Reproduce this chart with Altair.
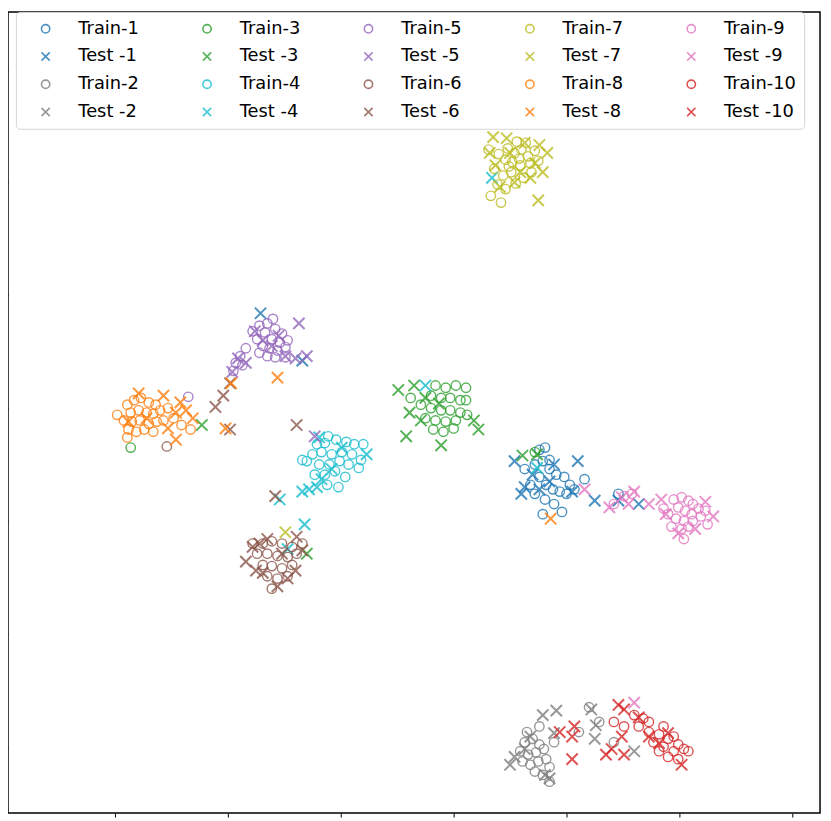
import altair as alt
import pandas as pd

# t-SNE embedding readings (train = circles, test = crosses), per class
TRAIN_1 = [(7.6,-3.7),(8.1,-3.5),(7.2,-5.0),(7.9,-4.7),(8.5,-5.4),(9.1,-5.9),(9.8,-6.1),(10.3,-6.8),(7.6,-6.1),(8.2,-6.8),(8.8,-7.2),(9.4,-7.4),(6.8,-6.8),(7.2,-7.6),(8.1,-8.1),(10.0,-7.6),(10.7,-7.2),(8.9,-8.5),(9.6,-9.2),(6.3,-5.4),(7.9,-9.4),(11.6,-6.3),(14.6,-7.6),(8.5,-4.6)]
TEST_1 = [(5.4,-4.7),(6.3,-7.0),(7.6,-7.2),(11.0,-4.7),(12.5,-8.2),(14.6,-8.2),(16.4,-8.5),(8.9,-5.0),(7.0,-5.9),(10.5,-7.4),(8.5,-6.5),(6.0,-7.6),(-17.1,8.4),(-13.4,4.2)]

TRAIN_2 = [(6.3,-29.6),(7.0,-29.3),(7.6,-29.8),(5.9,-30.4),(6.6,-30.7),(7.3,-30.5),(8.0,-30.2),(6.1,-31.3),(6.8,-31.6),(7.5,-31.3),(8.2,-31.1),(7.2,-32.2),(7.9,-32.5),(8.5,-31.8),(6.5,-28.7),(7.6,-28.2),(8.9,-29.6),(12.0,-26.5),(12.9,-27.8),(11.1,-28.7),(14.2,-29.6),(8.5,-33.1)]
TEST_2 = [(5.0,-31.6),(6.3,-30.2),(8.1,-32.5),(8.5,-32.8),(7.9,-27.2),(9.1,-26.8),(8.9,-28.8),(12.2,-26.7),(12.5,-29.3),(12.6,-28.1),(16.0,-30.4),(6.8,-29.1),(5.4,-30.9)]

TRAIN_3 = [(-1.6,2.0),(-0.7,1.8),(0.2,2.0),(1.1,1.8),(-2.0,1.1),(-1.1,0.9),(-0.3,0.9),(0.6,0.7),(-2.9,0.3),(-2.0,0.0),(-1.1,-0.2),(-0.3,-0.2),(0.6,-0.4),(-2.5,-0.9),(-1.6,-1.1),(-0.7,-1.2),(0.2,-1.1),(1.2,-0.6),(-1.8,-1.9),(-0.9,-2.1),(0.0,-1.8),(-3.8,0.9),(1.1,0.7),(-28.6,-3.5),(7.2,-3.9)]
TEST_3 = [(-4.9,1.6),(-3.5,2.0),(-2.5,0.9),(-3.9,-0.4),(-4.2,-2.5),(-1.1,-3.3),(1.8,-1.1),(2.2,-1.9),(-2.9,-1.1),(-1.3,0.4),(6.1,-4.2),(7.4,-4.1),(-22.3,-1.5),(-13.0,-12.9)]

TRAIN_4 = [(-12.1,-3.2),(-11.4,-3.1),(-10.4,-2.8),(-9.5,-3.0),(-8.8,-3.2),(-12.5,-4.1),(-11.7,-3.9),(-10.8,-4.1),(-9.9,-3.9),(-9.0,-4.1),(-8.2,-4.6),(-13.0,-4.7),(-11.9,-5.0),(-11.0,-5.0),(-10.1,-4.7),(-9.3,-5.0),(-8.4,-5.3),(-12.3,-5.9),(-11.4,-5.9),(-10.5,-5.6),(-9.6,-6.1),(-11.2,-6.8),(-10.2,-7.0),(-13.4,-4.6),(-8.0,-3.2),(-11.1,-2.5)]
TEST_4 = [(-7.7,-4.1),(-11.9,-2.6),(-10.8,-5.4),(-12.8,-7.2),(-12.1,-7.0),(-13.4,-7.4),(-11.7,-6.3),(-9.9,-3.5),(-15.4,-8.1),(-13.2,-10.3),(-2.5,2.0),(3.4,20.4),(7.4,-5.3),(-14.7,-12.5)]

TRAIN_5 = [(-17.2,7.3),(-16.5,7.5),(-15.8,7.0),(-15.2,6.6),(-16.7,6.7),(-16.1,6.1),(-15.4,5.8),(-14.7,6.0),(-17.4,6.1),(-16.9,5.5),(-16.3,5.3),(-15.6,5.1),(-14.9,5.4),(-16.5,4.6),(-15.8,4.5),(-17.2,4.9),(-17.8,6.8),(-14.9,4.5),(-18.4,5.3),(-18.9,4.6),(-19.3,4.0),(-18.7,3.8),(-19.5,3.3),(-16.0,7.9),(-23.5,1.0)]
TEST_5 = [(-13.7,7.5),(-13.0,4.6),(-14.0,4.4),(-14.9,4.6),(-17.6,6.8),(-16.9,6.0),(-19.1,4.4),(-19.6,3.2),(-18.4,4.0),(-12.3,-2.5),(-16.1,5.5),(-15.5,6.4)]

TRAIN_6 = [(-16.9,-12.0),(-16.1,-11.8),(-15.2,-12.0),(-14.3,-12.3),(-17.4,-12.9),(-16.5,-12.9),(-15.6,-13.1),(-14.7,-13.2),(-13.9,-12.9),(-16.9,-13.9),(-16.1,-14.0),(-15.2,-14.2),(-14.3,-13.9),(-16.5,-14.9),(-15.6,-15.1),(-14.7,-14.9),(-16.1,-16.0),(-17.8,-12.0),(-13.4,-12.0),(-25.4,-3.4)]
TEST_6 = [(-17.8,-12.3),(-18.4,-13.6),(-17.2,-12.0),(-16.5,-11.6),(-13.9,-11.4),(-13.4,-12.6),(-15.2,-12.9),(-16.9,-14.6),(-14.7,-15.1),(-15.6,-15.8),(-14.0,-14.4),(-17.5,-14.4),(-15.8,-7.8),(-13.9,-1.5),(-19.8,-1.9),(-21.1,0.1),(-20.4,1.1),(-19.8,2.2)]

TRAIN_7 = [(4.8,23.0),(5.4,22.6),(6.0,22.9),(6.6,22.3),(5.2,21.8),(4.6,22.0),(5.9,21.5),(6.8,21.7),(4.0,22.5),(3.6,21.2),(4.4,20.6),(5.1,20.9),(6.2,20.4),(5.6,23.6),(6.4,23.5),(7.2,22.8),(3.9,19.8),(4.6,19.4),(5.5,19.9),(3.3,18.8),(4.2,18.2),(5.8,22.1),(6.9,20.9),(4.9,21.4),(3.1,22.9),(7.5,21.9)]
TEST_7 = [(3.2,22.6),(3.7,21.5),(4.7,23.9),(6.3,23.5),(7.6,23.3),(8.3,22.6),(7.2,21.7),(6.8,20.4),(5.4,20.0),(4.1,19.6),(7.5,18.4),(5.9,20.9),(7.9,20.9),(5.0,22.6),(3.5,24.0),(-14.9,-11.0)]

TRAIN_8 = [(-28.9,0.3),(-28.3,0.7),(-27.7,0.9),(-27.0,0.5),(-26.4,0.3),(-28.6,-0.4),(-27.9,-0.2),(-27.2,-0.4),(-26.6,-0.5),(-26.0,-0.2),(-25.3,0.0),(-29.2,-1.1),(-28.5,-1.2),(-27.8,-1.1),(-27.0,-1.4),(-26.3,-1.2),(-25.7,-1.1),(-28.8,-1.9),(-28.1,-2.1),(-27.4,-1.9),(-26.6,-2.1),(-24.8,-0.9),(-24.1,-1.5),(-28.9,-2.6),(-23.3,-1.9),(-29.8,-0.6)]
TEST_8 = [(-27.9,1.3),(-25.7,1.1),(-24.2,0.5),(-24.6,-0.4),(-23.1,-0.9),(-23.7,-0.2),(-25.3,-1.8),(-24.6,-2.8),(-28.8,-1.2),(-27.2,-0.9),(-15.6,2.7),(-19.7,2.2),(-20.2,-1.8),(8.6,-9.8)]

TRAIN_9 = [(19.5,-8.1),(20.2,-7.9),(20.8,-8.2),(21.2,-8.5),(21.7,-8.9),(19.9,-8.8),(20.5,-9.1),(21.1,-9.4),(19.0,-9.4),(19.7,-9.8),(20.4,-10.0),(21.2,-10.0),(21.9,-9.6),(22.3,-9.1),(19.3,-10.5),(20.2,-10.7),(20.8,-10.5),(18.6,-8.9),(22.5,-10.3),(20.4,-11.6),(15.1,-7.8),(15.8,-7.6),(14.2,-8.5)]
TEST_9 = [(11.6,-7.2),(13.8,-8.8),(14.9,-7.9),(15.5,-8.5),(17.3,-8.5),(18.4,-8.1),(18.8,-9.4),(19.9,-11.1),(21.4,-10.7),(23.0,-9.6),(22.3,-8.3),(16.0,-7.4),(16.0,-26.1)]

TRAIN_10 = [(16.0,-27.2),(16.8,-27.5),(15.1,-28.2),(16.4,-28.2),(17.3,-28.7),(18.2,-28.9),(19.0,-29.3),(19.9,-29.8),(17.7,-29.6),(18.6,-30.0),(19.5,-30.4),(20.4,-30.2),(18.2,-30.4),(19.0,-30.9),(19.9,-31.1),(20.8,-30.4),(17.3,-27.8),(18.6,-28.2),(19.5,-29.1),(14.2,-27.8)]
TEST_10 = [(14.6,-26.3),(15.1,-26.7),(16.4,-27.4),(17.3,-29.1),(18.2,-29.7),(19.0,-28.8),(20.2,-31.6),(14.9,-29.1),(14.0,-30.2),(15.1,-30.7),(10.5,-31.1),(10.5,-29.1),(9.4,-28.7),(10.7,-28.2),(13.5,-30.7)]

TRAIN = [TRAIN_1, TRAIN_2, TRAIN_3, TRAIN_4, TRAIN_5, TRAIN_6, TRAIN_7, TRAIN_8, TRAIN_9, TRAIN_10]
TEST = [TEST_1, TEST_2, TEST_3, TEST_4, TEST_5, TEST_6, TEST_7, TEST_8, TEST_9, TEST_10]

CLASS_COLORS = ["#1f77b4", "#7f7f7f", "#2ca02c", "#17becf", "#9467bd",
                "#8c564b", "#bcbd22", "#ff7f0e", "#e377c2", "#d62728"]

TICKS = [-30, -20, -10, 0, 10, 20, 30]

X_PATH = "M-1,-1L1,1M-1,1L1,-1"

rows = []
for k in range(10):
    for (x, y) in TRAIN[k]:
        rows.append({"x": x, "y": y, "label": f"Train-{k+1}", "kind": "Train", "order": 2 * k})
    for (x, y) in TEST[k]:
        rows.append({"x": x, "y": y, "label": f"Test -{k+1}", "kind": "Test", "order": 2 * k + 1})
df = pd.DataFrame(rows)

# legend entries fill down each of the 5 columns (4 rows)
domain, colors, shapes = [], [], []
for k in range(10):
    domain += [f"Train-{k+1}", f"Test -{k+1}"]
    shapes += ["circle", X_PATH]
    colors += [CLASS_COLORS[k], CLASS_COLORS[k]]

legend = alt.Legend(
    orient="none", legendX=8, legendY=0, columns=5, gridAlign="each",
    columnPadding=46, rowPadding=10, padding=8,
    symbolOffset=13, labelOffset=24, labelFontSize=18, labelFont="DejaVu Sans",
    labelColor="black", symbolSize=70, symbolStrokeWidth=1.6,
    strokeColor="#d5d5d5", fillColor="rgba(255,255,255,0.8)", cornerRadius=4,
)

chart = alt.Chart(df).mark_point(filled=False, opacity=0.8).encode(
    x=alt.X("x:Q", scale=alt.Scale(domain=[-39.47, 32.46], nice=False, zero=False),
            axis=alt.Axis(values=TICKS, labels=False, title=None, grid=False, domain=False,
                          ticks=True, tickSize=4, tickColor="black")),
    y=alt.Y("y:Q", scale=alt.Scale(domain=[-35.88, 35.09], nice=False, zero=False),
            axis=alt.Axis(values=TICKS, labels=False, title=None, grid=False, domain=False,
                          ticks=True, tickSize=4, tickColor="black")),
    color=alt.Color("label:N", title=None, scale=alt.Scale(domain=domain, range=colors), legend=legend),
    shape=alt.Shape("label:N", title=None, scale=alt.Scale(domain=domain, range=shapes), legend=legend),
    size=alt.condition("datum.kind == 'Test'", alt.value(130), alt.value(90)),
    strokeWidth=alt.condition("datum.kind == 'Test'", alt.value(2.0), alt.value(1.4)),
    order=alt.Order("order:Q"),
).properties(
    width=820, height=809,
    autosize=alt.AutoSizeParams(type="none"),
    padding={"left": 0, "top": 0, "right": 3, "bottom": 5},
).configure(
    font="DejaVu Sans"
).configure_view(
    stroke="black", strokeWidth=1.5
)

chart.save("out.html", embed_options={"renderer": "svg", "actions": False})
